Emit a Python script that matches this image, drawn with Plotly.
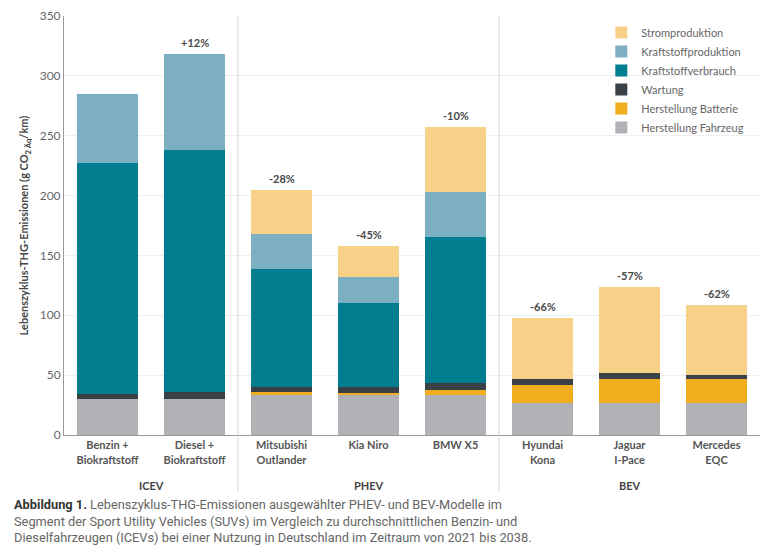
import plotly.graph_objects as go

categories = ["Benzin +<br>Biokraftstoff", "Diesel +<br>Biokraftstoff", "Mitsubishi<br>Outlander",
              "Kia Niro", "BMW X5", "Hyundai<br>Kona", "Jaguar<br>I-Pace", "Mercedes<br>EQC"]
groups = ["ICEV", "PHEV", "BEV"]
group_members = [[0, 1], [2, 3, 4], [5, 6, 7]]

herstellung_fahrzeug = [30, 30, 33, 33.5, 33, 26.5, 26.5, 26.5]
herstellung_batterie = [0, 0, 3, 1.5, 5, 15.5, 20.5, 20]
wartung = [4.5, 6, 4.5, 5, 5.5, 4.5, 4.5, 4]
kraftstoffverbrauch = [192.5, 202, 98.5, 70, 121.5, 0, 0, 0]
kraftstoffproduktion = [58, 80, 29, 22, 38, 0, 0, 0]
stromproduktion = [0, 0, 37, 26, 54, 51, 72.5, 58]
percent_labels = ["", "+12%", "-28%", "-45%", "-10%", "-66%", "-57%", "-62%"]

series = [
    ("Herstellung Fahrzeug", herstellung_fahrzeug, "#B2B1B6"),
    ("Herstellung Batterie", herstellung_batterie, "#F0AE1F"),
    ("Wartung", wartung, "#3A4146"),
    ("Kraftstoffverbrauch", kraftstoffverbrauch, "#007D8F"),
    ("Kraftstoffproduktion", kraftstoffproduktion, "#7BAFC1"),
    ("Stromproduktion", stromproduktion, "#F8D189"),
]

xs = list(range(len(categories)))
fig = go.Figure()
for name, vals, color in series:
    fig.add_trace(go.Bar(x=xs, y=vals, name=name, marker=dict(color=color, line=dict(width=0)),
                         hoverinfo="y+name"))

totals = [sum(s[1][i] for s in series) for i in xs]
font_main = "Lato, 'Open Sans', sans-serif"
PH = 419.0  # plot height in px
PW = 696.0  # plot width in px

for i, lab in enumerate(percent_labels):
    if lab:
        fig.add_annotation(x=i, y=totals[i], text="<b>" + lab + "</b>", showarrow=False,
                           yanchor="bottom", yshift=3, font=dict(size=11, color="#4a4a4a", family=font_main))

for g, members in zip(groups, group_members):
    cx = sum(members) / len(members)
    fig.add_annotation(x=cx, y=-50 / PH, yref="paper", text="<b>" + g + "</b>", showarrow=False,
                       yanchor="middle", font=dict(size=11, color="#444", family=font_main))

for sep in [1.5, 4.5]:
    fig.add_shape(type="line", x0=sep, x1=sep, y0=-57 / PH, y1=1, yref="paper", xref="x",
                  line=dict(color="#d6d6d6", width=1))

caption = ("<b>Abbildung 1.</b> <span style='color:#666'>Lebenszyklus-THG-Emissionen ausgewählter PHEV- und BEV-Modelle im<br>"
           "Segment der Sport Utility Vehicles (SUVs) im Vergleich zu durchschnittlichen Benzin- und<br>"
           "Dieselfahrzeugen (ICEVs) bei einer Nutzung in Deutschland im Zeitraum von 2021 bis 2038.</span>")
fig.add_annotation(x=-52 / PW, y=-60 / PH, xref="paper", yref="paper", text=caption,
                   showarrow=False, align="left", xanchor="left", yanchor="top",
                   font=dict(size=12.8, color="#333", family="'Liberation Sans Narrow', 'Roboto', sans-serif"))

fig.update_layout(
    width=780, height=555,
    margin=dict(l=56, r=28, t=8, b=128, autoexpand=False),
    paper_bgcolor="white", plot_bgcolor="white",
    barmode="stack", bargap=0.29,
    font=dict(family=font_main, color="#666"),
    legend=dict(traceorder="reversed", x=0.772, y=0.995, xanchor="left", yanchor="top",
                font=dict(size=11, color="#666"), bgcolor="rgba(0,0,0,0)", itemwidth=30),
    showlegend=True,
)
fig.update_xaxes(range=[-0.5, 7.5], tickvals=xs, ticktext=["<b>" + c + "</b>" for c in categories],
                 tickfont=dict(size=11, color="#555"), showline=True, linecolor="#999",
                 linewidth=1, ticks="", showgrid=False, zeroline=False, fixedrange=True, automargin=False)
fig.update_yaxes(range=[0, 350], dtick=50, showline=True, linecolor="#999", linewidth=1,
                 gridcolor="#efefef", tickfont=dict(size=12, color="#666"), zeroline=False, automargin=False,
                 title=dict(text="<b>Lebenszyklus-THG-Emissionen (g CO<sub>2 Äq</sub>/km)</b>",
                            font=dict(size=11, color="#444"), standoff=8))

fig.write_html("out.html")
